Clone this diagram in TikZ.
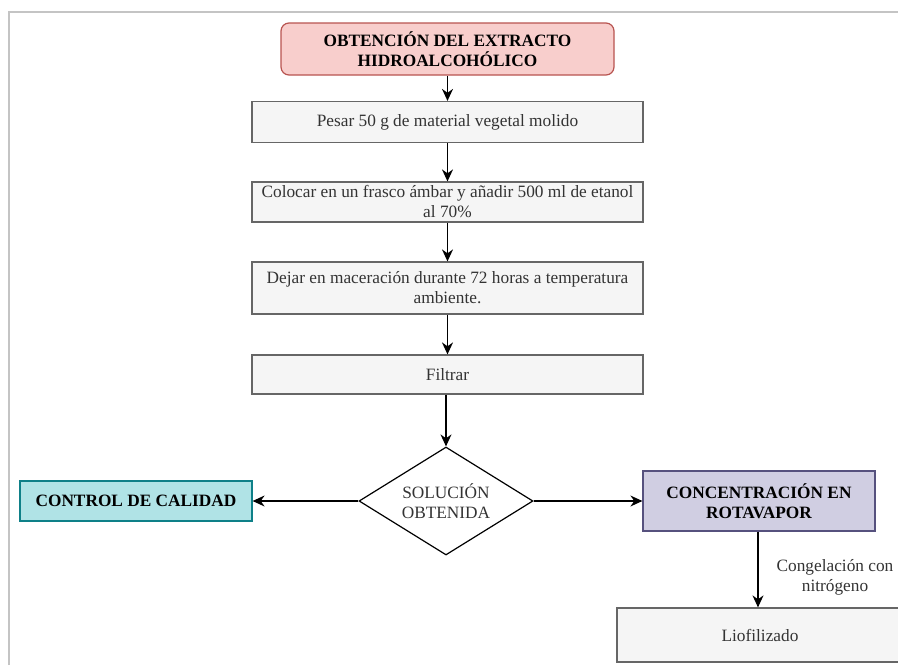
\documentclass[tikz,border=0pt]{standalone}
\usepackage{fontspec}
\setmainfont{Liberation Serif}
\usetikzlibrary{shapes.geometric,arrows.meta}
\definecolor{redfill}{HTML}{F8CECC}
\definecolor{redline}{HTML}{B85450}
\definecolor{grayfill}{HTML}{F5F5F5}
\definecolor{grayline}{HTML}{666666}
\definecolor{graytext}{HTML}{333333}
\definecolor{tealfill}{HTML}{B0E3E6}
\definecolor{tealline}{HTML}{0E8088}
\definecolor{purfill}{HTML}{D0CEE2}
\definecolor{purline}{HTML}{56517E}
\definecolor{framecol}{HTML}{C4C4C4}
\begin{document}
\begin{tikzpicture}[x=1pt,y=-1pt,
  every node/.style={inner sep=0pt, align=center, font=\fontsize{17.3}{20}\selectfont},
  stepbox/.style={draw=grayline, fill=grayfill, text=graytext, line width=1.2pt, minimum width=391pt},
  titlebox/.style={draw=redline, fill=redfill, rounded corners=8pt, line width=1.2pt, font=\fontsize{17.3}{20}\selectfont\bfseries},
  ctrlbox/.style={draw=tealline, fill=tealfill, line width=1.2pt, font=\fontsize{17.3}{20}\selectfont\bfseries},
  concbox/.style={draw=purline, fill=purfill, line width=1.2pt, font=\fontsize{17.3}{20}\selectfont\bfseries},
  decision/.style={diamond, draw=black, line width=1.2pt, text=graytext, aspect=1.61},
  flow/.style={line width=1.3pt, -{Stealth[length=12pt,width=11pt]}}
]
\useasboundingbox (0,0) rectangle (898,665);
\draw[framecol, line width=2pt] (9,665) -- (9,12) -- (898,12);

\node[titlebox, minimum width=333pt, minimum height=52pt] (title) at (447.5,49) {OBTENCIÓN DEL EXTRACTO\\HIDROALCOHÓLICO};
\node[stepbox, minimum height=41pt] (pesar) at (447.5,122) {Pesar 50 g de material vegetal molido};
\node[stepbox, minimum height=40pt] (colocar) at (447.5,202) {Colocar en un frasco ámbar y añadir 500 ml de etanol\\al 70\%};
\node[stepbox, minimum height=52pt] (dejar) at (447.5,288) {Dejar en maceración durante 72 horas a temperatura\\ambiente.};
\node[stepbox, minimum height=39pt] (filtrar) at (447.5,374.5) {Filtrar};
\node[decision, minimum width=174pt, minimum height=108pt] (dec) at (446,501) {SOLUCIÓN\\OBTENIDA};
\node[ctrlbox, minimum width=232pt, minimum height=40pt] (ctrl) at (136,501) {CONTROL DE CALIDAD};
\node[concbox, minimum width=232pt, minimum height=60pt] (conc) at (759,501) {CONCENTRACIÓN EN\\ROTAVAPOR};
\node[stepbox, minimum width=286pt, minimum height=54pt] (liof) at (760,635) {Liofilizado};
\node[text=graytext] (lbl) at (835,577) {Congelación con\\nitrógeno};

\draw[flow] (title) -- (pesar);
\draw[flow] (pesar) -- (colocar);
\draw[flow] (colocar) -- (dejar);
\draw[flow] (dejar) -- (filtrar);
\draw[flow] (filtrar.south -| dec.north) -- (dec.north);
\draw[flow] (dec.west) -- (ctrl.east);
\draw[flow] (dec.east) -- (conc.west);
\draw[flow] ([xshift=-1pt]conc.south) -- ([xshift=-1pt]conc.south |- liof.north);
\end{tikzpicture}
\end{document}
